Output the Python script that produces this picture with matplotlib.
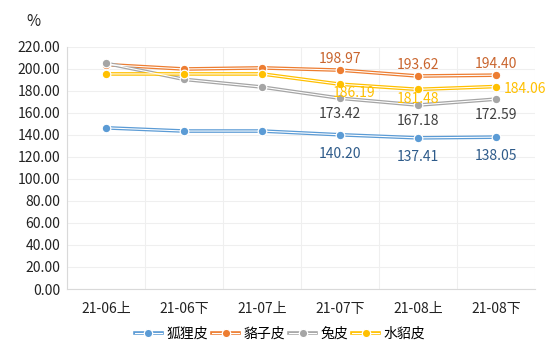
import matplotlib.pyplot as plt
from matplotlib.lines import Line2D
from matplotlib.ticker import FixedLocator

plt.rcParams['font.family'] = ['Noto Sans CJK SC', 'DejaVu Sans']

periods = ['21-06上', '21-06下', '21-07上', '21-07下', '21-08上', '21-08下']
fox = [146.5, 143.6, 143.6, 140.20, 137.41, 138.05]
raccoon = [204.0, 200.0, 201.0, 198.97, 193.62, 194.40]
rabbit = [205.2, 190.6, 183.6, 173.42, 167.18, 172.59]
mink = [195.5, 195.5, 195.5, 186.19, 181.48, 184.06]

names = ['狐狸皮', '貉子皮', '兔皮', '水貂皮']
colors = ['#5B9BD5', '#ED7D31', '#A5A5A5', '#FFC000']
label_colors = ['#2E5B8A', '#C9652E', '#404040', '#FFC000']
# label offsets in pixels for the last three points of each series
offsets = [(0, -19), (0, 11), (0, -16)]
offsets_mink = [(14, -9), (0, -10), (8, -2)]

fig = plt.figure(figsize=(5.6, 3.56), dpi=100)
ax = fig.add_axes([0.1196, 0.1882, 0.8358, 0.6798])

x = list(range(len(periods)))
handles = []
for i, (vals, c) in enumerate(zip([fox, raccoon, rabbit, mink], colors)):
    ax.plot(x, vals, color=c, lw=2.6, zorder=3, solid_capstyle='butt')
    ax.plot(x, vals, color='white', lw=0.8, zorder=4, solid_capstyle='butt')
    ax.plot(x, vals, ls='none', marker='o', ms=6.2, mfc=c, mec='white', mew=0.9, zorder=5)
    for j in range(3, 6):
        if i == 3:
            dx, dy = offsets_mink[j - 3]
            ha = 'left' if j == 5 else 'center'
        else:
            dx, dy = offsets[i]
            ha = 'center'
        ax.annotate(f'{vals[j]:.2f}', (x[j], vals[j]), xytext=(dx * 0.72, dy * 0.72),
                    textcoords='offset points', ha=ha, va='center',
                    fontsize=10, color=label_colors[i], zorder=6)
    handles.append((Line2D([], [], color=c, lw=2.6),
                    Line2D([], [], color='white', lw=0.8),
                    Line2D([], [], ls='none', marker='o', ms=6, mfc=c, mec='white', mew=0.9)))

ax.set_xlim(-0.5, 5.5)
ax.set_ylim(0, 220)
ax.set_yticks(range(0, 221, 20))
ax.set_yticklabels([f'{v:.2f}' for v in range(0, 221, 20)])
ax.set_xticks(x)
ax.set_xticklabels(periods)
ax.xaxis.set_minor_locator(FixedLocator([k - 0.5 for k in range(7)]))
ax.grid(axis='y', color='#EFEFEF', lw=0.8)
ax.grid(axis='x', which='minor', color='#EFEFEF', lw=0.8)
ax.set_axisbelow(True)
for s in ['top', 'right']:
    ax.spines[s].set_visible(False)
for s in ['left', 'bottom']:
    ax.spines[s].set_color('#D9D9D9')
ax.tick_params(axis='both', which='both', length=0, labelsize=10, colors='#222222')
ax.tick_params(axis='x', pad=9)
ax.tick_params(axis='y', pad=5)

fig.text(0.059, 0.94, '%', fontsize=11, ha='center', va='center', color='#222222')

fig.legend(handles, names, loc='center', bbox_to_anchor=(0.5, 0.062), ncol=4,
           frameon=False, fontsize=10, handlelength=1.95, handletextpad=0.3,
           columnspacing=0.3)

fig.savefig('out.png', dpi=100)
